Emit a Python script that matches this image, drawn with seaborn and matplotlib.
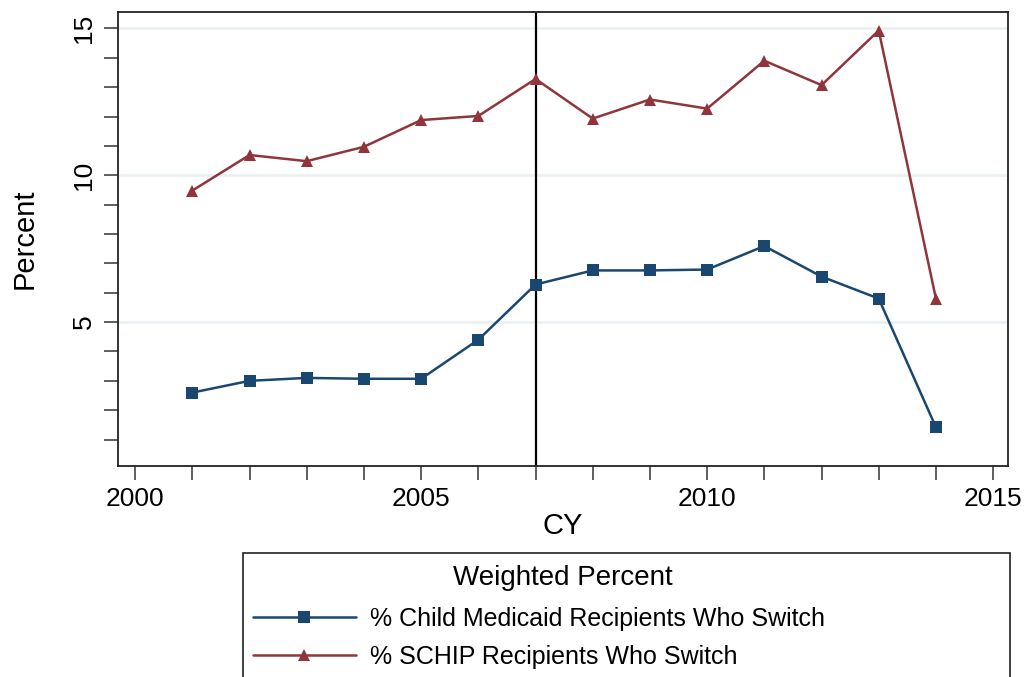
import matplotlib
matplotlib.use("Agg")
import matplotlib.pyplot as plt
import seaborn as sns
import pandas as pd

years = list(range(2001, 2015))
medicaid_pct = [2.6, 3.0, 3.1, 3.07, 3.07, 4.4, 6.28, 6.76, 6.76, 6.79, 7.59, 6.55, 5.8, 1.42]
schip_pct = [9.48, 10.69, 10.48, 10.97, 11.88, 12.02, 13.28, 11.93, 12.58, 12.27, 13.9, 13.07, 14.93, 5.8]
series_names = ["% Child Medicaid Recipients Who Switch", "% SCHIP Recipients Who Switch"]
legend_title = "Weighted Percent"
x_tick_labels = [2000, 2005, 2010, 2015]
y_tick_labels = [5, 10, 15]
ref_year = 2007

df = pd.DataFrame({
    "CY": years * 2,
    "Percent": medicaid_pct + schip_pct,
    "Series": [series_names[0]] * len(years) + [series_names[1]] * len(years),
})

sns.set_theme(style="white")
plt.rcParams["font.family"] = ["Liberation Sans", "DejaVu Sans"]
for key in ("text.color", "axes.labelcolor", "xtick.labelcolor", "ytick.labelcolor"):
    plt.rcParams[key] = "black"

W, H = 1026, 677
fig = plt.figure(figsize=(W / 100, H / 100), dpi=100)
ax = fig.add_axes([118 / W, 1 - 466 / H, (1008 - 118) / W, (466 - 12) / H])

palette = {series_names[0]: "#1a476f", series_names[1]: "#90353b"}
markers = {series_names[0]: "s", series_names[1]: "^"}
sns.lineplot(data=df, x="CY", y="Percent", hue="Series", style="Series",
             palette=palette, markers=markers, dashes=False, linewidth=1.8,
             markersize=8.5, markeredgewidth=0, ax=ax, legend=True)

ax.axvline(ref_year, color="black", linewidth=1.6, zorder=1)

for v in y_tick_labels:
    ax.axhline(v, color="#e8f0f2", linewidth=1.8, zorder=0)

ax.set_xlim(1999.7, 2015.26)
ax.set_ylim(0.1, 15.56)

ax.set_xticks(list(range(2000, 2016)))
ax.set_xticklabels([str(y) if y in x_tick_labels else "" for y in range(2000, 2016)], fontsize=19)
ax.set_yticks(list(range(1, 16)))
ax.set_yticklabels([str(v) if v in y_tick_labels else "" for v in range(1, 16)],
                   fontsize=19, rotation=90, va="center")
ax.tick_params(axis="both", direction="out", length=10, width=1.1, color="#333333",
               bottom=True, left=True)
ax.tick_params(axis="x", pad=5)
ax.tick_params(axis="y", pad=6)

for sp in ax.spines.values():
    sp.set_color("#222222")
    sp.set_linewidth(1.3)

ax.set_xlabel("CY", fontsize=21, labelpad=1)
ax.set_ylabel("Percent", fontsize=21, labelpad=24)
ax.grid(False)

handles, labels = ax.get_legend_handles_labels()
ax.get_legend().remove()
leg = fig.legend(handles, labels, title=" ",
                 loc="upper left",
                 bbox_to_anchor=(243 / W, 1 - 553 / H, (1010 - 243) / W, 0),
                 mode="expand", borderaxespad=0, fontsize=18, title_fontsize=22,
                 handlelength=4.1, handletextpad=0.6, labelspacing=0.56,
                 borderpad=0.4, frameon=True, fancybox=False, framealpha=1)
leg.get_frame().set_edgecolor("#222222")
leg.get_frame().set_linewidth(1.2)
fig.text(563 / W, 1 - 578 / H, legend_title, fontsize=20, ha="center", va="center",
         zorder=10)

fig.savefig("out.png", dpi=100)
